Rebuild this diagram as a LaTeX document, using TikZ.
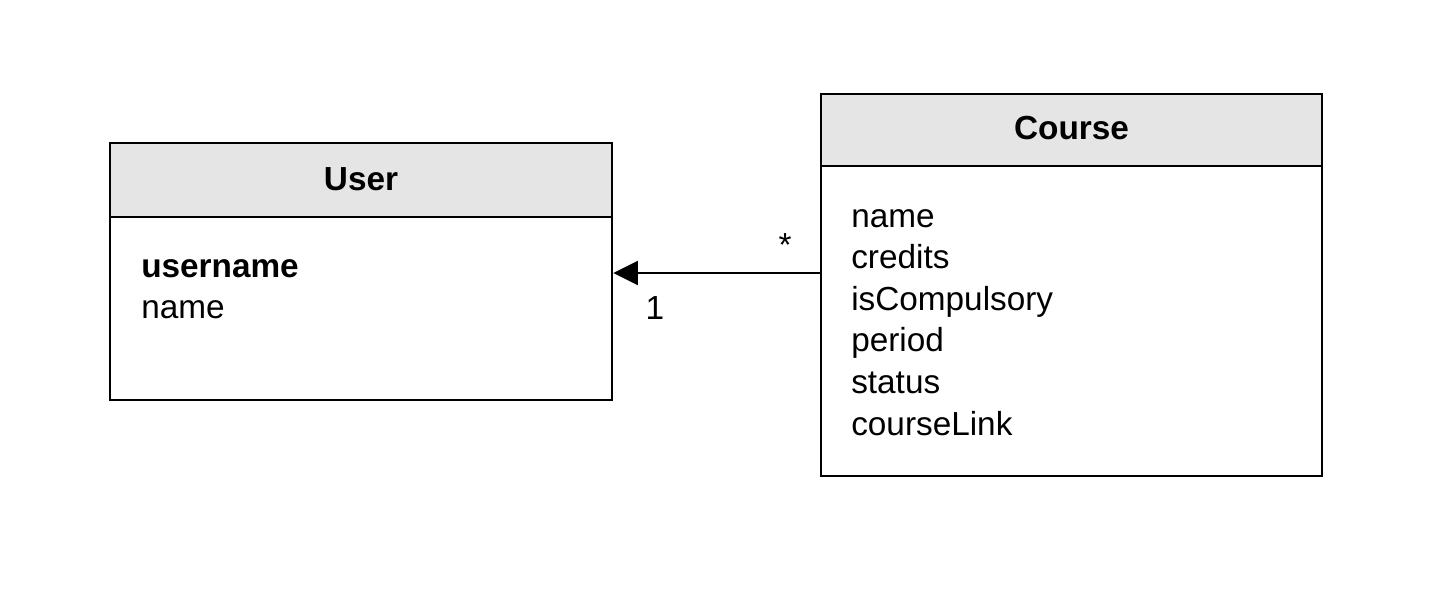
\documentclass[tikz,border=0pt]{standalone}
\usepackage{fontspec}
\setmainfont{Liberation Sans}
\usetikzlibrary{arrows.meta}
\begin{document}
\begin{tikzpicture}[x=0.75pt,y=-0.75pt,
  box/.style={draw=black,line width=1.9pt,fill=white,inner sep=0pt},
  head/.style={draw=black,line width=1.9pt,fill=black!10,inner sep=0pt},
  txt/.style={inner sep=0pt,font=\fontsize{25}{30}\selectfont},
  htxt/.style={inner sep=0pt,font=\fontsize{25}{30}\selectfont\bfseries},
  conn/.style={line width=1.9pt,-{Triangle[length=18.5pt,width=18pt]}}]
\useasboundingbox (0,0) rectangle (1454,604);
% User class
\node[box,minimum width=376.5pt,minimum height=192.75pt] (user) at (361,271.5) {};
\node[head,minimum width=376.5pt,minimum height=55.5pt] (userhead) at (361,180) {};
\node[htxt,anchor=base] (usertitle) at (361,190) {User};
\node[txt,anchor=base west] (uattr1) at (141,277) {\bfseries username};
\node[txt,anchor=base west] (uattr2) at (141,318) {name};
% Course class
\node[box,minimum width=375.75pt,minimum height=286.5pt] (course) at (1071.5,285) {};
\node[head,minimum width=375.75pt,minimum height=54pt] (coursehead) at (1071.5,130) {};
\node[htxt,anchor=base] (coursetitle) at (1071.5,139) {Course};
\foreach \t [count=\i from 0] in {name,credits,isCompulsory,period,status,courseLink}
  \node[txt,anchor=base west] (cattr\i) at (851,227+41.6*\i) {\t};
% association
\coordinate (ay) at (0,273);
\draw[conn] (course.west |- ay) -- (user.east |- ay);
\node[txt] (mstar) at (785,245) {*};
\node[txt] (mone) at (655,308) {1};
\end{tikzpicture}
\end{document}
